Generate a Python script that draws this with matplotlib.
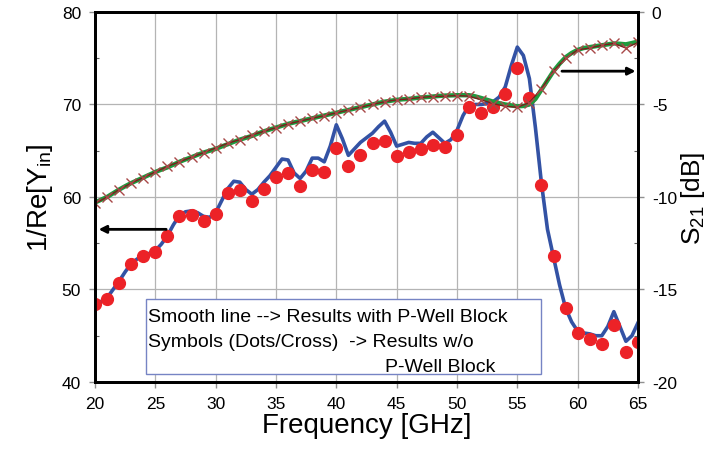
import numpy as np
import matplotlib
matplotlib.use("Agg")
import matplotlib.pyplot as plt
from matplotlib.patches import Rectangle
from matplotlib.ticker import MultipleLocator

plt.rcParams["font.family"] = ["Liberation Sans", "DejaVu Sans"]
plt.rcParams["mathtext.default"] = "regular"
plt.rcParams["axes.unicode_minus"] = False

# ---------------- DATA ----------------

# symbols (w/o P-Well Block), one point per GHz
freq_pts = np.arange(20, 66)
inv_re_y_dots = [
    48.4, 49.0, 50.7, 52.8, 53.6, 54.1, 55.8, 57.9, 58.0, 57.4,
    58.2, 60.4, 60.8, 59.6, 60.9, 62.2, 62.6, 61.2, 62.9, 62.7,
    65.3, 63.3, 64.5, 65.8, 66.1, 64.4, 64.9, 65.2, 65.6, 65.4,
    66.7, 69.7, 69.1, 69.7, 71.1, 73.9, 70.7, 61.3, 53.6, 48.0,
    45.3, 44.6, 44.1, 46.2, 43.2, 44.3,
]
s21_cross = [
    -10.35, -10.0, -9.6, -9.25, -8.95, -8.65, -8.35, -8.1, -7.85, -7.6,
    -7.35, -7.1, -6.9, -6.65, -6.45, -6.25, -6.05, -5.9, -5.75, -5.6,
    -5.45, -5.3, -5.15, -5.0, -4.85, -4.75, -4.7, -4.62, -4.57, -4.55,
    -4.52, -4.55, -4.75, -4.95, -5.1, -5.15, -4.9, -4.15, -3.2, -2.5,
    -2.05, -1.95, -1.8, -1.7, -1.95, -1.65,
]

# smooth line (with P-Well Block), every 0.5 GHz
freq_line = np.arange(20, 65.01, 0.5)
inv_re_y_line = [
    48.5, 48.7, 49.1, 50.0, 50.9, 51.9, 52.8, 53.3, 53.7, 53.9,
    54.2, 54.9, 55.8, 57.0, 58.0, 58.4, 58.5, 58.3, 57.9, 57.8,
    58.3, 59.6, 60.9, 61.7, 61.6, 60.8, 60.3, 60.8, 61.6, 62.3,
    63.2, 64.1, 64.0, 62.6, 62.0, 62.8, 64.2, 64.2, 63.8, 65.5,
    67.8, 66.3, 64.5, 65.2, 65.9, 66.4, 66.9, 67.6, 68.2, 67.0,
    65.5, 65.7, 65.9, 65.8, 65.8, 66.5, 67.0, 66.4, 65.8, 66.2,
    67.2, 68.8, 69.9, 70.0, 70.0, 70.1, 70.3, 70.8, 71.9, 74.2,
    76.2, 75.3, 72.8, 67.5, 61.5, 56.5, 53.5, 50.5, 48.0, 46.5,
    45.5, 45.3, 45.2, 45.0, 45.0, 46.0, 47.6, 46.0, 44.4, 45.0,
    46.4,
]
s21_line = [
    -10.3, -10.15, -10.0, -9.8, -9.6, -9.42, -9.25, -9.1, -8.95, -8.8,
    -8.65, -8.52, -8.4, -8.25, -8.1, -7.97, -7.85, -7.72, -7.6, -7.5,
    -7.4, -7.27, -7.15, -7.02, -6.9, -6.8, -6.7, -6.57, -6.45, -6.35,
    -6.25, -6.15, -6.05, -5.97, -5.9, -5.82, -5.75, -5.67, -5.6, -5.52,
    -5.45, -5.37, -5.3, -5.22, -5.15, -5.07, -5.0, -4.92, -4.85, -4.8,
    -4.75, -4.72, -4.7, -4.66, -4.62, -4.6, -4.57, -4.54, -4.52, -4.51,
    -4.5, -4.5, -4.5, -4.56, -4.65, -4.75, -4.85, -4.93, -5.0, -5.05,
    -5.1, -5.08, -5.0, -4.7, -4.2, -3.7, -3.2, -2.8, -2.45, -2.22,
    -2.05, -1.95, -1.9, -1.85, -1.8, -1.75, -1.7, -1.72, -1.75, -1.68,
    -1.6,
]

legend_lines = [
    "Smooth line --> Results with P-Well Block",
    "Symbols (Dots/Cross)  -> Results w/o",
]
legend_last = "P-Well Block"

# ---------------- PLOT ----------------

fig = plt.figure(figsize=(7.11, 4.52), dpi=100)
ax = fig.add_axes([0.1336, 0.1527, 0.7637, 0.8186])
ax2 = ax.twinx()

ax.grid(True, which="major", color="#b4b4b4", lw=0.9)
ax.set_axisbelow(True)

ax.plot(freq_line, inv_re_y_line, color="#3352a4", lw=2.6, zorder=3)
ax.plot(freq_pts, inv_re_y_dots, "o", color="#ec2227", ms=8.5, zorder=4)

ax2.plot(freq_line, s21_line, color="#1f9a3e", lw=3.2)
ax2.plot(freq_pts, s21_cross, color="#7d1c1c", lw=1.0, marker="x",
         ms=7.5, mew=1.0, mec="#a84848")

ax.set_xlim(20, 65)
ax.set_ylim(40, 80)
ax2.set_ylim(-20, 0)
ax.xaxis.set_major_locator(MultipleLocator(5))
ax.yaxis.set_major_locator(MultipleLocator(10))
ax.yaxis.set_minor_locator(MultipleLocator(5))
ax2.yaxis.set_major_locator(MultipleLocator(5))
ax2.yaxis.set_minor_locator(MultipleLocator(2.5))

for a in (ax, ax2):
    for s in a.spines.values():
        s.set_linewidth(2.0)
        s.set_color("black")
    a.tick_params(which="major", direction="out", length=4, width=1,
                  color="#909090", labelsize=12.5, pad=6)
    a.tick_params(which="minor", direction="in", length=3, width=0.8,
                  color="#606060")

ax.set_xlabel("Frequency [GHz]", fontsize=20, labelpad=1)
ax.set_ylabel("1/Re[Y$_{in}$]", fontsize=20, labelpad=5)
ax2.set_ylabel("S$_{21}$ [dB]", fontsize=19)
ax2.yaxis.set_label_coords(1.075, 0.5)

# arrows marking which axis each curve belongs to
arrow = dict(arrowstyle="-|>", color="black", lw=2, mutation_scale=11,
             shrinkA=0, shrinkB=0)
ax.annotate("", xy=(20.3, 56.5), xytext=(25.9, 56.5), arrowprops=arrow,
            zorder=5)
ax.annotate("", xy=(64.8, 73.6), xytext=(58.7, 73.6), arrowprops=arrow,
            zorder=5)

# explanatory box
box = Rectangle((0.0934, 0.0216), 0.7276, 0.2024, transform=ax.transAxes,
                facecolor="white", edgecolor="#7684c4", lw=1.0, zorder=6)
ax.add_patch(box)
ax.text(0.098, 0.178, legend_lines[0], transform=ax.transAxes,
        fontsize=14, va="center", ha="left", zorder=7)
ax.text(0.098, 0.110, legend_lines[1], transform=ax.transAxes,
        fontsize=14, va="center", ha="left", zorder=7)
ax.text(0.534, 0.042, legend_last, transform=ax.transAxes,
        fontsize=14, va="center", ha="left", zorder=7)

fig.savefig("out.png", dpi=100)
